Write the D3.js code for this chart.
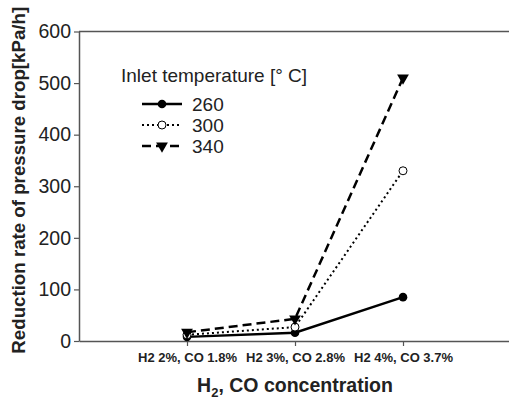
<!DOCTYPE html>
<head>
    <meta charset="utf-8">
    <script src="https://d3js.org/d3.v7.js"></script>
    <style>
        body { margin: 0; background: #fff; }
        text { font-family: "Liberation Sans", Arial, sans-serif; }
    </style>
</head>
<body>
    <svg id="chart" width="509" height="402"></svg>
    <script>
        // Data
        const categories = ["H2 2%, CO 1.8%", "H2 3%, CO 2.8%", "H2 4%, CO 3.7%"];
        const temps = ["260", "300", "340"];
        const values260 = [8, 16, 85];
        const values300 = [12, 27, 330];
        const values340 = [17, 43, 510];
        const yTicks = [0, 100, 200, 300, 400, 500, 600];

        const series = [
            { name: temps[0], values: values260, dash: null, width: 2.4, marker: "dot" },
            { name: temps[1], values: values300, dash: "2,3", width: 2, marker: "ring" },
            { name: temps[2], values: values340, dash: "9,5", width: 2.5, marker: "tri" }
        ];

        const svg = d3.select("#chart");
        const mLeft = 79, mTop = 31.5, mBottom = 341, mRight = 511;

        const x = d3.scaleLinear().domain([0, 4]).range([mLeft, mRight]);
        const y = d3.scaleLinear().domain([0, 600]).range([mBottom, mTop]);

        const axisColor = "#555";

        // top frame line
        svg.append("line")
            .attr("x1", mLeft).attr("x2", mRight)
            .attr("y1", mTop).attr("y2", mTop)
            .attr("stroke", axisColor).attr("stroke-width", 1.5);

        // y axis
        const yAxis = svg.append("g")
            .attr("transform", `translate(${mLeft},0)`)
            .call(d3.axisLeft(y).tickValues(yTicks).tickSize(5).tickSizeOuter(0));
        yAxis.select(".domain").attr("stroke", axisColor).attr("stroke-width", 1.5);
        yAxis.selectAll(".tick line").attr("stroke", axisColor).attr("stroke-width", 1.2);
        yAxis.selectAll(".tick text")
            .attr("x", -8)
            .style("font-size", "19.5px")
            .attr("fill", "#222");

        // x axis
        const xAxis = svg.append("g")
            .attr("transform", `translate(0,${mBottom})`)
            .call(d3.axisBottom(x).tickValues([1, 2, 3]).tickSize(5).tickSizeOuter(0)
                .tickFormat(d => categories[d - 1]));
        xAxis.select(".domain").attr("stroke", axisColor).attr("stroke-width", 1.5);
        xAxis.selectAll(".tick line").attr("stroke", axisColor).attr("stroke-width", 1.2);
        xAxis.selectAll(".tick text")
            .attr("y", 12)
            .style("font-size", "13px")
            .style("font-weight", "bold")
            .attr("fill", "#222");

        // axis titles
        svg.append("text")
            .attr("transform", `translate(25,${(mTop + mBottom) / 2 - 6}) rotate(-90)`)
            .attr("text-anchor", "middle")
            .style("font-size", "18.7px")
            .style("font-weight", "bold")
            .attr("fill", "#222")
            .text("Reduction rate of pressure drop[kPa/h]");

        const xt = svg.append("text")
            .attr("x", 295).attr("y", 392)
            .attr("text-anchor", "middle")
            .style("font-size", "19.5px")
            .style("font-weight", "bold")
            .attr("fill", "#222");
        xt.append("tspan").text("H");
        xt.append("tspan").attr("dy", 5).style("font-size", "13px").text("2");
        xt.append("tspan").attr("dy", -5).text(", CO concentration");

        // markers
        const tri = d3.symbol().type(d3.symbolTriangle).size(60);
        function drawMarker(g, kind, cx, cy) {
            if (kind === "dot") {
                g.append("circle").attr("cx", cx).attr("cy", cy).attr("r", 4.3).attr("fill", "#000");
            } else if (kind === "ring") {
                g.append("circle").attr("cx", cx).attr("cy", cy).attr("r", 4)
                    .attr("fill", "#fff").attr("stroke", "#000").attr("stroke-width", 1);
            } else {
                g.append("path").attr("d", tri())
                    .attr("transform", `translate(${cx},${cy}) rotate(180)`)
                    .attr("fill", "#000");
            }
        }

        const line = d3.line().x((d, i) => x(i + 1)).y(d => y(d));

        series.forEach(s => {
            const g = svg.append("g");
            g.append("path")
                .datum(s.values)
                .attr("d", line)
                .attr("fill", "none")
                .attr("stroke", "#000")
                .attr("stroke-width", s.width)
                .attr("stroke-dasharray", s.dash);
            s.values.forEach((v, i) => drawMarker(g, s.marker, x(i + 1), y(v)));
        });

        // legend
        svg.append("text")
            .attr("x", 121).attr("y", 82)
            .style("font-size", "19px")
            .attr("fill", "#222")
            .text("Inlet temperature [° C]");

        series.forEach((s, i) => {
            const ly = 104 + i * 21;
            const g = svg.append("g");
            g.append("line")
                .attr("x1", 142).attr("x2", 182)
                .attr("y1", ly).attr("y2", ly)
                .attr("stroke", "#000")
                .attr("stroke-width", s.width)
                .attr("stroke-dasharray", s.dash);
            drawMarker(g, s.marker, 162, ly);
            g.append("text")
                .attr("x", 192).attr("y", ly + 7)
                .style("font-size", "19px")
                .attr("fill", "#222")
                .text(s.name);
        });
    </script>
</body>
